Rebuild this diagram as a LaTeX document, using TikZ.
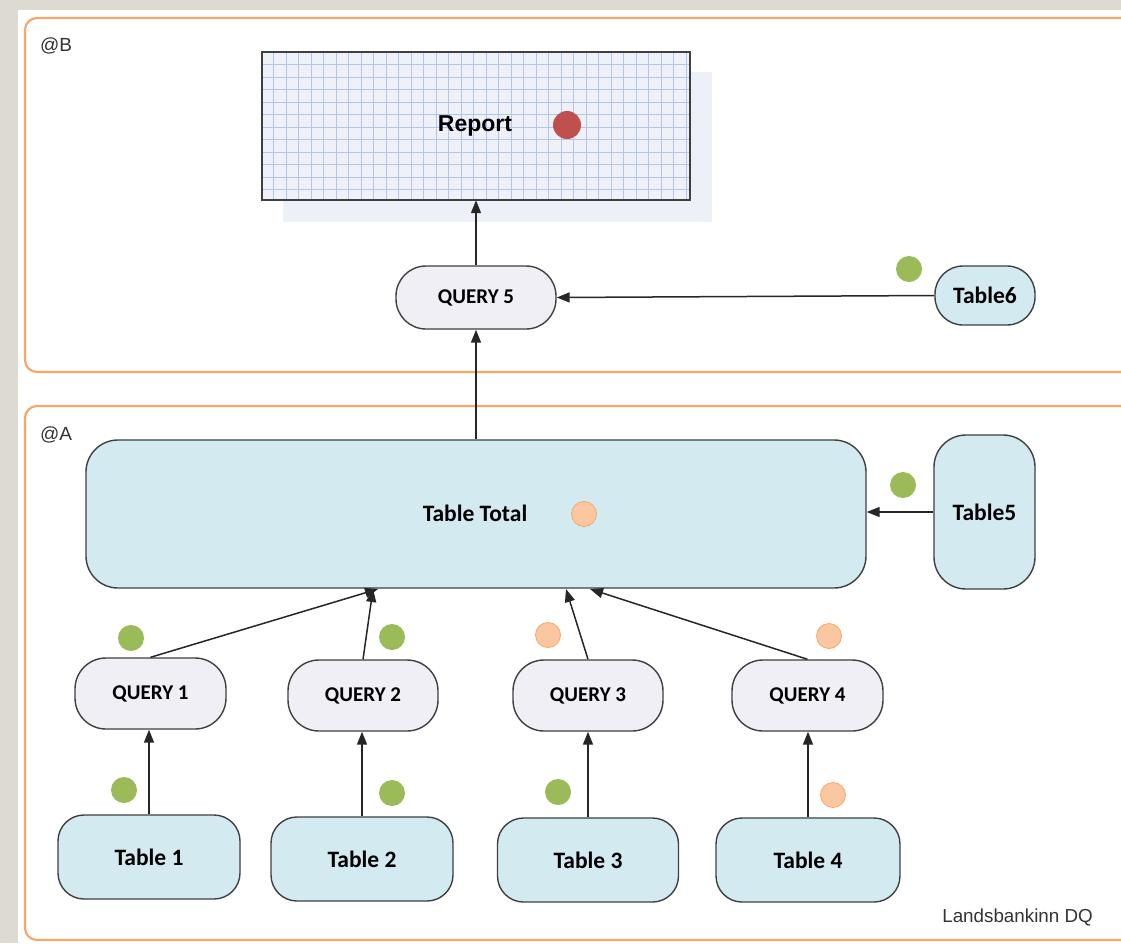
\documentclass[tikz,border=0pt]{standalone}
\usepackage{fontspec}
\setmainfont{Carlito}
\newfontfamily\arialf{Liberation Sans}
\usetikzlibrary{arrows.meta,calc}
\definecolor{bggrey}{HTML}{DDDBD1}
\definecolor{frameor}{HTML}{F7A869}
\definecolor{tabfill}{HTML}{D2EAF0}
\definecolor{qfill}{HTML}{F0EFF5}
\definecolor{edgec}{HTML}{404040}
\definecolor{gdot}{HTML}{9BBB59}
\definecolor{odotf}{HTML}{FBC7A0}
\definecolor{odotb}{HTML}{F7A868}
\definecolor{rdot}{HTML}{C0504D}
\definecolor{gridc}{HTML}{B3C6E7}
\definecolor{repfill}{HTML}{EEF1F8}
\definecolor{shadowc}{HTML}{EDF0F6}
\tikzset{
  frame/.style={draw=frameor, line width=2.2pt, rounded corners=12pt},
  tabbox/.style={draw=edgec, fill=tabfill, line width=1.4pt, inner sep=0pt,
    font=\bfseries\fontsize{23.5}{28}\selectfont},
  qbox/.style={draw=edgec, fill=qfill, line width=1.4pt, inner sep=0pt,
    rounded corners=31pt, minimum height=71pt,
    font=\bfseries\fontsize{21}{25}\selectfont},
  conn/.style={draw=black!85, line width=1.5pt, -{Triangle[length=13pt,width=10pt]}},
  gdotst/.style={circle, fill=gdot, minimum size=26pt, inner sep=0pt},
  odotst/.style={circle, fill=odotf, draw=odotb, line width=0.8pt, minimum size=25pt, inner sep=0pt},
  lbl/.style={font=\arialf\fontsize{19}{22}\selectfont, text=black!80, inner sep=0pt}
}
\begin{document}
\begin{tikzpicture}[x=1pt,y=-1pt]
\useasboundingbox (0,0) rectangle (1121,943);
\clip (0,0) rectangle (1121,943);
\fill[bggrey] (0,0) rectangle (1121,943);
\fill[white] (18,10) rectangle (1125,945);
% frames
\draw[frame] (25,18) rectangle (1140,372);
\draw[frame] (25,406) rectangle (1140,940);
\node[lbl, anchor=west] (labB) at (40,46) {@B};
\node[lbl, anchor=west] (labA) at (40,435) {@A};
\node[lbl, anchor=east, font=\arialf\fontsize{18.8}{22}\selectfont] (brand) at (1093,917) {Landsbankinn DQ};
% report
\fill[shadowc] (283,72) rectangle (712,222);
\node[fill=repfill, minimum width=428pt, minimum height=148pt, inner sep=0pt] (rep) at (476,126) {};
\begin{scope}
\clip (262,52) rectangle (690,200);
\foreach \k in {0,...,34} {\draw[gridc, line width=1pt] (273.5+12.5*\k,52) -- (273.5+12.5*\k,200);}
\foreach \k in {0,...,11} {\draw[gridc, line width=1pt] (262,64.5+12.5*\k) -- (690,64.5+12.5*\k);}
\end{scope}
\draw[edgec, line width=1.5pt] (rep.north west) rectangle (rep.south east);
\node[font=\arialf\bfseries\fontsize{23}{27}\selectfont, inner sep=0pt] (reptxt) at (475,126) {Report};
\node[circle, fill=rdot, minimum size=28pt, inner sep=0pt] (rd) at (567,125) {};
% upper nodes
\node[qbox, minimum width=160pt, minimum height=63pt, rounded corners=30pt] (q5) at (476,297.5) {QUERY 5};
\node[tabbox, minimum width=100pt, minimum height=59pt, rounded corners=28pt] (t6) at (985,295.5) {Table6};
\node[gdotst] (d6) at (909,269) {};
% table total
\node[tabbox, minimum width=780pt, minimum height=148pt, rounded corners=32pt] (tt) at (476,514) {};
\node[font=\bfseries\fontsize{23.5}{28}\selectfont, inner sep=0pt] (tttxt) at (475,513) {Table Total};
\node[odotst] (dtt) at (584,514) {};
\node[tabbox, minimum width=101pt, minimum height=154pt, rounded corners=32pt] (t5) at (984.5,512) {Table5};
\node[gdotst] (d5) at (903,485) {};
% queries
\node[qbox, minimum width=151pt] (q1) at (150.5,693.5) {QUERY 1};
\node[qbox, minimum width=150pt] (q2) at (363,695.5) {QUERY 2};
\node[qbox, minimum width=150pt] (q3) at (588,695.5) {QUERY 3};
\node[qbox, minimum width=151pt] (q4) at (807.5,695.5) {QUERY 4};
\node[gdotst] (dq1) at (131,638) {};
\node[gdotst] (dq2) at (392,637) {};
\node[odotst] (dq3) at (548,635) {};
\node[odotst] (dq4) at (829,636) {};
% tables
\node[tabbox, minimum width=182pt, minimum height=84pt, rounded corners=26pt] (t1) at (149,857) {Table 1};
\node[tabbox, minimum width=182pt, minimum height=84pt, rounded corners=26pt] (t2) at (362,859) {Table 2};
\node[tabbox, minimum width=181pt, minimum height=84pt, rounded corners=26pt] (t3) at (588,860) {Table 3};
\node[tabbox, minimum width=184pt, minimum height=84pt, rounded corners=26pt] (t4) at (808,860) {Table 4};
\node[gdotst] (dt1) at (124,790) {};
\node[gdotst] (dt2) at (392,793) {};
\node[gdotst] (dt3) at (558,792) {};
\node[odotst] (dt4) at (833,795) {};
% connector end points
\coordinate (e1) at (378,589);
\coordinate (e2) at (373,589);
\coordinate (e3) at (566,589);
\coordinate (e4) at (590,589);
% connectors
\draw[conn] (q5.north) -- (rep.south);
\draw[conn] (tt.north) -- (q5.south);
\draw[conn] (t6.west) -- (q5.east);
\draw[conn] (t5.west) -- (tt.east |- t5.west);
\draw[conn] (q1.north) -- (e1);
\draw[conn] (q2.north) -- (e2);
\draw[conn] (q3.north) -- (e3);
\draw[conn] (q4.north) -- (e4);
\draw[conn] (t1.north) -- (t1.north |- q1.south);
\draw[conn] (t2.north) -- (t2.north |- q2.south);
\draw[conn] (t3.north) -- (t3.north |- q3.south);
\draw[conn] (t4.north) -- (t4.north |- q4.south);
\end{tikzpicture}
\end{document}
